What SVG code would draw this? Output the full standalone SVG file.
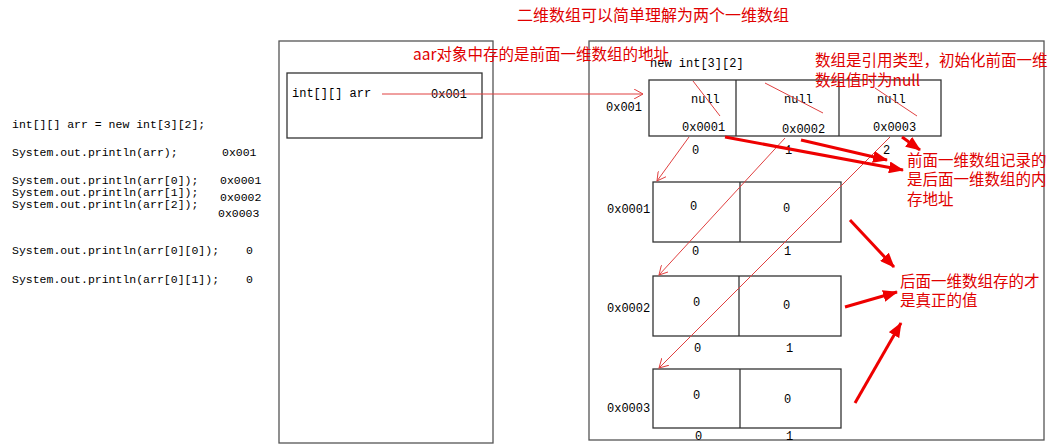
<svg xmlns="http://www.w3.org/2000/svg" width="1057" height="448" viewBox="0 0 1057 448">
<defs>
<marker id="ta" markerWidth="10" markerHeight="10" refX="9" refY="5" orient="auto" markerUnits="userSpaceOnUse"><path d="M0,0 L9,5 L0,10" fill="none" stroke="#e04040" stroke-width="1"/></marker>
<marker id="ba" markerWidth="16" markerHeight="12" refX="14" refY="6" orient="auto" markerUnits="userSpaceOnUse"><path d="M0,0 L15,6 L0,12 Z" fill="#ee0000"/></marker>
</defs>
<style>
.m{font-family:"Liberation Mono","DejaVu Sans Mono",monospace;font-size:12px;fill:#000}
.c{font-size:11.5px}
.b{fill:none;stroke:#333;stroke-width:1.3}
.r{font-family:"Noto Sans CJK SC","Noto Sans",sans-serif;font-size:15.5px;fill:#e00000}
.t{stroke:#e04040;stroke-width:1;fill:none}
.k{stroke:#ee0000;stroke-width:3;fill:none}
</style>
<rect width="1057" height="448" fill="#fff"/>
<text class="r" x="517" y="21" style="font-size:16px">二维数组可以简单理解为两个一维数组</text>
<g id="code">
<text class="m c" x="12" y="128">int[][] arr = new int[3][2];</text>
<text class="m c" x="12" y="156">System.out.println(arr);</text><text class="m c" x="222" y="156">0x001</text>
<text class="m c" x="12" y="184">System.out.println(arr[0]);</text><text class="m c" x="220" y="184">0x0001</text>
<text class="m c" x="12" y="196">System.out.println(arr[1]);</text><text class="m c" x="220" y="201">0x0002</text>
<text class="m c" x="12" y="208">System.out.println(arr[2]);</text><text class="m c" x="218" y="217">0x0003</text>
<text class="m c" x="12" y="254">System.out.println(arr[0][0]);</text><text class="m c" x="246" y="254">0</text>
<text class="m c" x="12" y="283">System.out.println(arr[0][1]);</text><text class="m c" x="246" y="283">0</text>
</g>
<g id="stack">
<rect x="279" y="41" width="214" height="402" fill="#fff" stroke="#555" stroke-width="1.3"/>
<rect class="b" x="287" y="73" width="195" height="65"/>
<text class="m" x="292" y="97">int[][] arr</text>
<text class="m" x="431" y="98">0x001</text>
</g>
<g id="heap">
<rect x="589" y="41" width="455" height="399" fill="#fff" stroke="#555" stroke-width="1.3"/>
<text class="m" x="650" y="67">new int[3][2]</text>
<rect class="b" x="649" y="80" width="292" height="56"/>
<line class="b" x1="736" y1="80" x2="736" y2="136"/><line class="b" x1="839" y1="80" x2="839" y2="136"/>
<text class="m" x="606" y="111">0x001</text>
<text class="m" x="691" y="103">null</text><text class="m" x="784" y="103">null</text><text class="m" x="877" y="103">null</text>
<text class="m" x="682" y="131">0x0001</text><text class="m" x="782" y="133">0x0002</text><text class="m" x="873" y="131">0x0003</text>
<text class="m" x="692" y="154">0</text><text class="m" x="785" y="154">1</text><text class="m" x="883" y="154">2</text>
</g>
<g id="a1">
<rect class="b" x="653" y="182" width="188" height="60"/><line class="b" x1="740" y1="182" x2="740" y2="242"/>
<text class="m" x="607" y="213">0x0001</text><text class="m" x="690" y="210">0</text><text class="m" x="783" y="212">0</text>
<text class="m" x="692" y="255">0</text><text class="m" x="784" y="255">1</text>
</g>
<g id="a2">
<rect class="b" x="653" y="276" width="188" height="60"/><line class="b" x1="739" y1="276" x2="739" y2="336"/>
<text class="m" x="607" y="312">0x0002</text><text class="m" x="693" y="306">0</text><text class="m" x="783" y="309">0</text>
<text class="m" x="694" y="352">0</text><text class="m" x="786" y="352">1</text>
</g>
<g id="a3">
<rect class="b" x="653" y="369" width="188" height="59"/><line class="b" x1="740" y1="369" x2="740" y2="428"/>
<text class="m" x="607" y="412">0x0003</text><text class="m" x="693" y="399">0</text><text class="m" x="784" y="403">0</text>
<text class="m" x="695" y="440">0</text><text class="m" x="786" y="440">1</text>
</g>
<g id="notes">
<text class="r" x="413" y="60">aar对象中存的是前面一维数组的地址</text>
<text class="r" x="815" y="66">数组是引用类型，初始化前面一维</text>
<text class="r" x="815" y="86">数组值时为null</text>
<text class="r" x="907" y="166">前面一维数组记录的</text>
<text class="r" x="907" y="185">是后面一维数组的内</text>
<text class="r" x="907" y="205">存地址</text>
<text class="r" x="900" y="287">后面一维数组存的才</text>
<text class="r" x="900" y="306">是真正的值</text>
</g>
<g id="connectors">
<line class="t" x1="382" y1="94" x2="643" y2="94" marker-end="url(#ta)"/>
<line class="t" x1="693" y1="81" x2="720" y2="116"/>
<line class="t" x1="765" y1="83" x2="823" y2="113"/>
<line class="t" x1="875" y1="88" x2="917" y2="116"/>
<line class="t" x1="689" y1="137" x2="657" y2="181" marker-end="url(#ta)"/>
<line class="t" x1="785" y1="138" x2="659" y2="275" marker-end="url(#ta)"/>
<line class="t" x1="890" y1="137" x2="659" y2="368" marker-end="url(#ta)"/>
<line class="k" x1="725" y1="137" x2="903" y2="170" marker-end="url(#ba)"/>
<line class="k" x1="801" y1="140" x2="887" y2="160" marker-end="url(#ba)"/>
<line class="k" x1="902" y1="137" x2="920" y2="150" marker-end="url(#ba)"/>
<line class="k" x1="850" y1="220" x2="894" y2="267" marker-end="url(#ba)"/>
<line class="k" x1="845" y1="307" x2="897" y2="292" marker-end="url(#ba)"/>
<line class="k" x1="855" y1="403" x2="901" y2="323" marker-end="url(#ba)"/>
</g>
</svg>
